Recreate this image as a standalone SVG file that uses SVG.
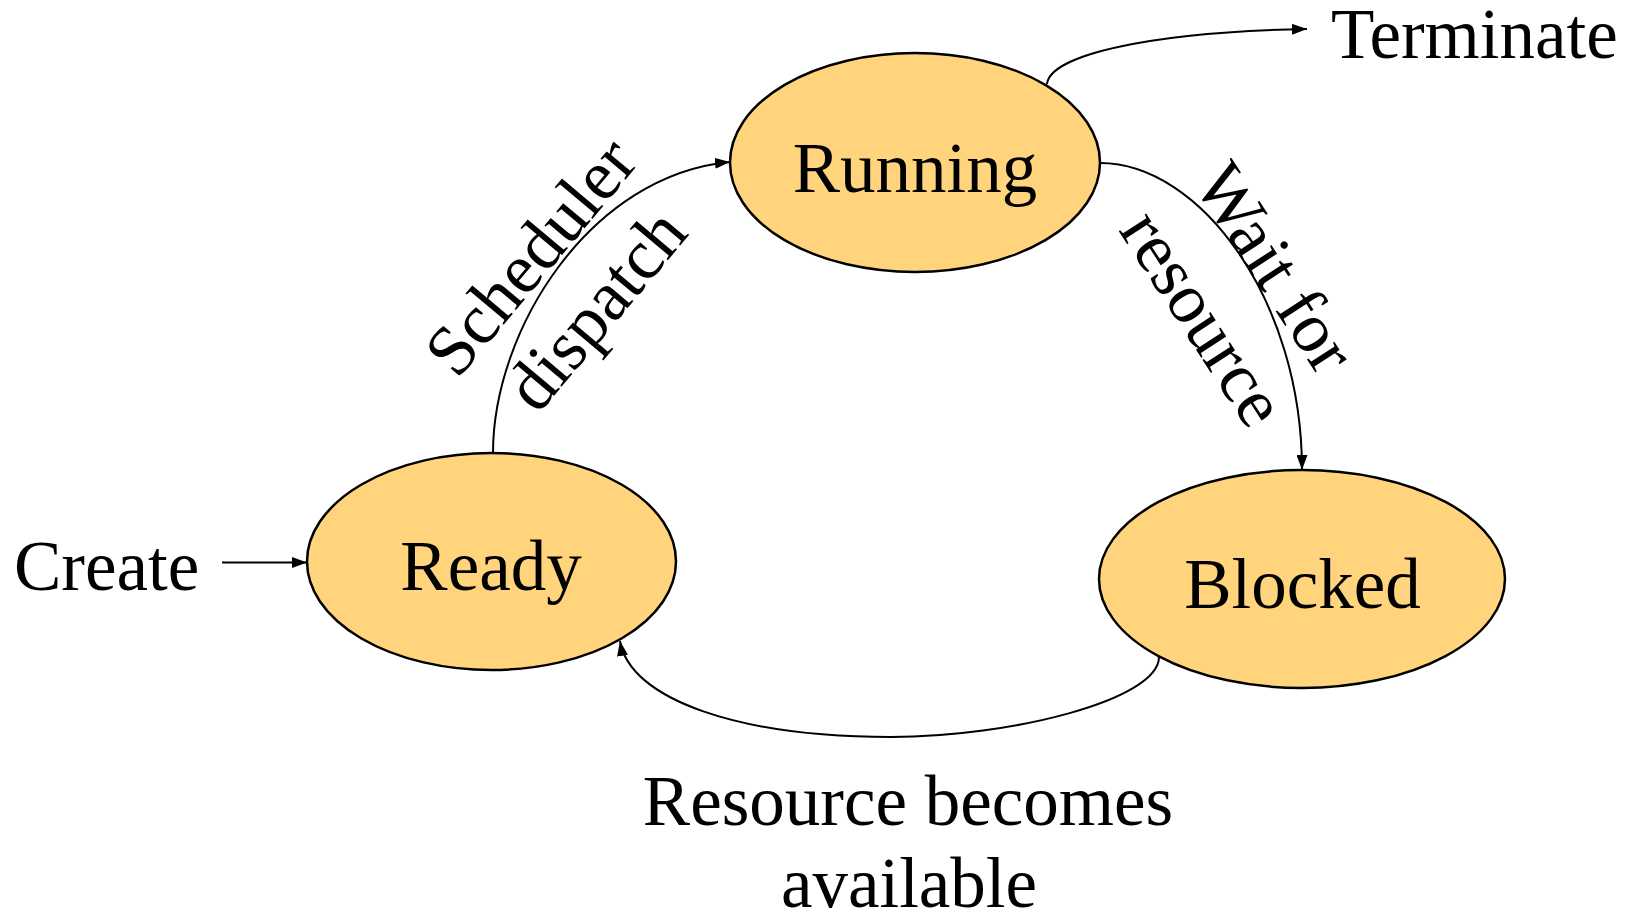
<svg xmlns="http://www.w3.org/2000/svg" width="1629" height="915" viewBox="0 0 1629 915">
<style>
.node{fill:#FFD47C;stroke:#000;stroke-width:2.5}
.t{font-family:"Liberation Serif","Times New Roman",serif;font-size:71px;fill:#000}
.c{text-anchor:middle}
.edge{fill:none;stroke:#000;stroke-width:2}
</style>
<defs>
<marker id="ah" markerUnits="userSpaceOnUse" markerWidth="15" markerHeight="11" refX="15" refY="5.5" orient="auto">
<path d="M0,0 L15,5.5 L0,11 z" fill="#000"/>
</marker>
</defs>
<rect width="1629" height="915" fill="#fff"/>
<g id="connectors">
<path class="edge" d="M222 562.5 L307 562.5" marker-end="url(#ah)"/>
<path class="edge" d="M493 453 C493 330 590 175 730 162" marker-end="url(#ah)"/>
<path class="edge" d="M1047 84 C1050 55 1150 32 1307 29" marker-end="url(#ah)"/>
<path class="edge" d="M1100 163 C1200 163 1302 300 1302 470" marker-end="url(#ah)"/>
<path class="edge" d="M1159 657 C1159 700 1010 737 891 737 C740 737 630 700 620 641" marker-end="url(#ah)"/>
</g>
<g id="running">
<ellipse class="node" cx="915" cy="162.5" rx="185" ry="109.5"/>
<text class="t c" x="915" y="192">Running</text>
</g>
<g id="ready">
<ellipse class="node" cx="491.5" cy="561.5" rx="184.5" ry="108.5"/>
<text class="t c" x="491" y="590">Ready</text>
</g>
<g id="blocked">
<ellipse class="node" cx="1302" cy="579" rx="203" ry="109"/>
<text class="t c" x="1302.5" y="608">Blocked</text>
</g>
<g id="create"><text class="t" x="14" y="590">Create</text></g>
<g id="terminate"><text class="t" x="1331" y="58">Terminate</text></g>
<g id="labels">
<text class="t c" transform="translate(530,256) rotate(-50)" x="0" y="24">Scheduler</text>
<text class="t c" transform="translate(600,313) rotate(-50)" x="0" y="18">dispatch</text>
<text class="t c" transform="translate(1275,268) rotate(57)" x="0" y="23">Wait for</text>
<text class="t c" transform="translate(1197,322) rotate(57)" x="0" y="16">resource</text>
<text class="t c" x="908" y="825">Resource becomes</text>
<text class="t c" x="909" y="907">available</text>
</g>
</svg>
